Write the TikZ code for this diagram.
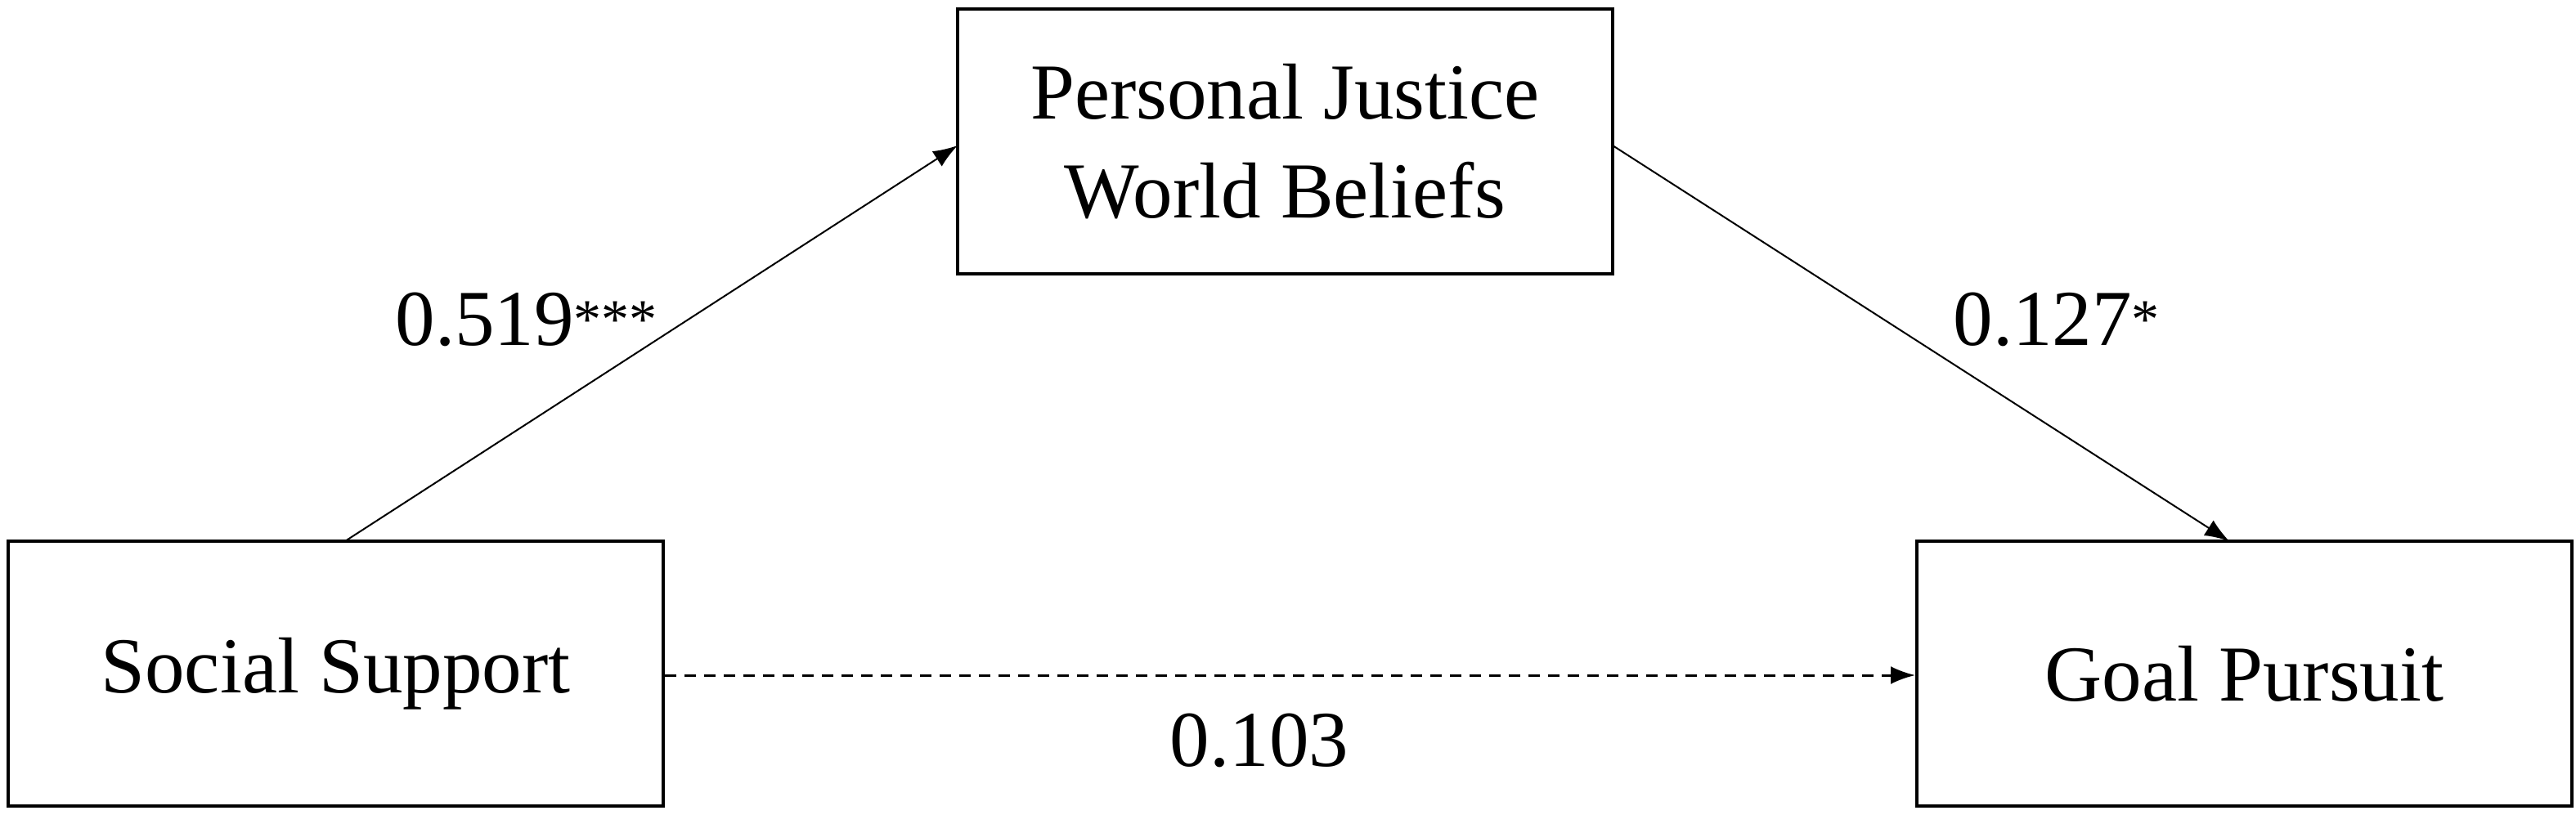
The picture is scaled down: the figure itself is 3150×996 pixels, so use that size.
\documentclass[tikz,border=0pt]{standalone}
\usepackage{fontspec}
\setmainfont{Liberation Serif}
\usetikzlibrary{arrows.meta}
\begin{document}
\begin{tikzpicture}[x=1pt,y=-1pt,
  box/.style={draw,line width=4pt,minimum width=801pt,minimum height=324pt,align=center,inner sep=0pt,font=\fontsize{97}{121}\selectfont},
  lbl/.style={font=\fontsize{97}{121}\selectfont,inner sep=0pt},
  conn/.style={line width=2pt,-{Latex[length=30pt,width=22pt]}}]
\useasboundingbox (0,0) rectangle (3150,996);
\node[box] (ss) at (410.5,824) {Social Support};
\node[box] (pj) at (1571.5,173) {Personal Justice\\World Beliefs};
\node[box] (gp) at (2744.5,824) {Goal Pursuit};
\coordinate (a1) at (422,662);
\coordinate (a2) at (1171,178);
\coordinate (b1) at (1972,178);
\coordinate (b2) at (2726,662);
\draw[conn] (a1) -- (a2);
\draw[conn] (b1) -- (b2);
\draw[conn,line width=3pt,dash pattern=on 14pt off 10pt] (ss.east |- 0,826) -- (gp.west |- 0,826);
\node[lbl] (l1) at (644,391) {0.519\textsuperscript{***}};
\node[lbl] (l2) at (2515,391) {0.127\textsuperscript{*}};
\node[lbl] (l3) at (1540,906) {0.103};
\end{tikzpicture}
\end{document}
